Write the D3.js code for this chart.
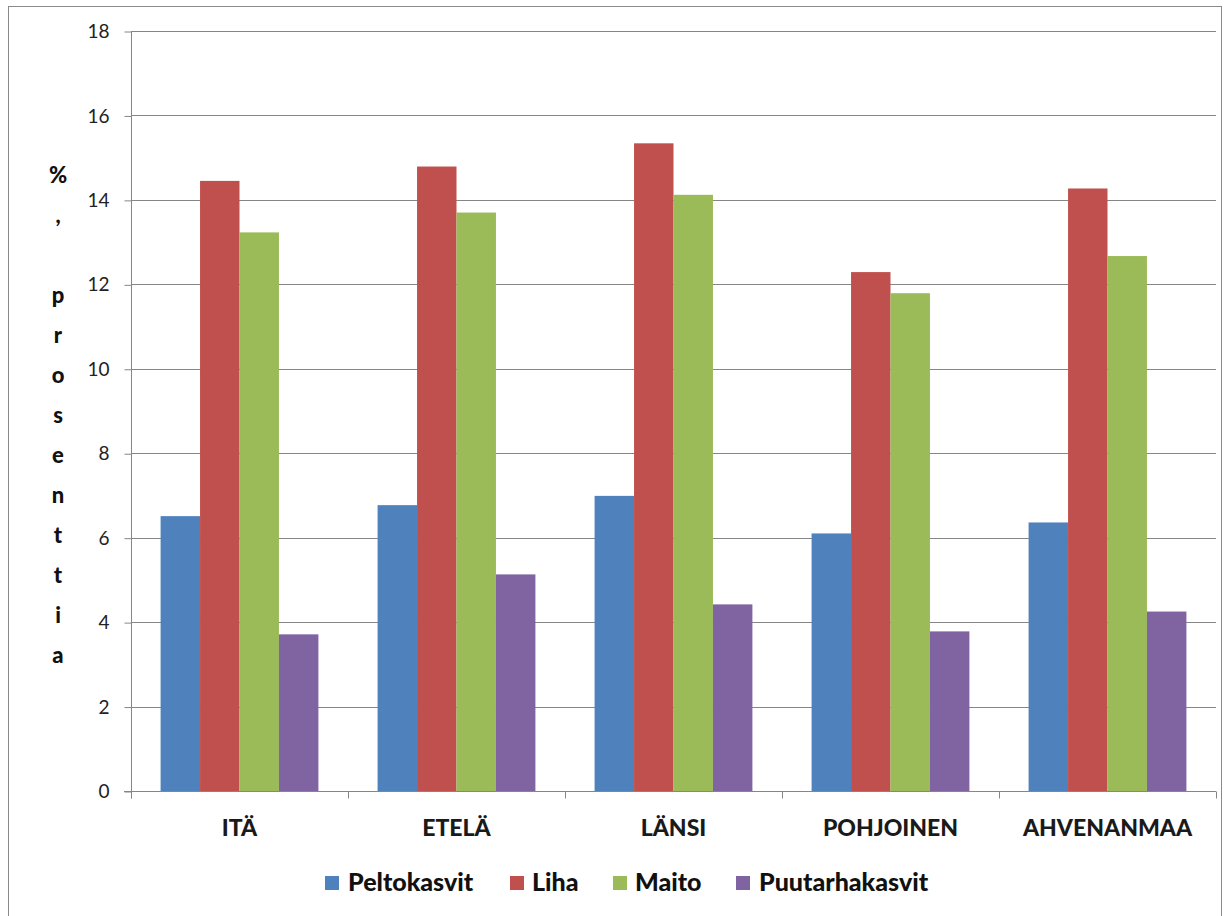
<!DOCTYPE html>
<html>
<head>
<meta charset="utf-8">
<script src="https://cdn.jsdelivr.net/npm/d3@7"></script>
<style>
  html, body { margin: 0; padding: 0; background: #fff; }
  svg { display: block; }
</style>
</head>
<body>
<svg id="chart" width="1230" height="916"></svg>
<script>
const categories = ["ITÄ", "ETELÄ", "LÄNSI", "POHJOINEN", "AHVENANMAA"];
const seriesNames = ["Peltokasvit", "Liha", "Maito", "Puutarhakasvit"];
const peltokasvit = [6.51, 6.77, 6.99, 6.10, 6.36];
const liha = [14.45, 14.79, 15.34, 12.29, 14.27];
const maito = [13.23, 13.70, 14.12, 11.79, 12.67];
const puutarhakasvit = [3.71, 5.13, 4.42, 3.78, 4.25];
const yTicks = [0, 2, 4, 6, 8, 10, 12, 14, 16, 18];
const yTitle = "%, prosenttia";
const colors = ["#4F81BD", "#C0504D", "#9BBB59", "#8064A2"];

const seriesValues = [peltokasvit, liha, maito, puutarhakasvit];

(function () {
const svg = d3.select("#chart");
const pLeft = 131, pRight = 1216, pTop = 31, pBottom = 791;
const gridColor = "#868686";

// outer border
svg.append("rect")
  .attr("x", 8.5).attr("y", 6.5)
  .attr("width", 1213).attr("height", 915)
  .attr("fill", "#fff").attr("stroke", "#8a8a8a").attr("stroke-width", 1);

const y = d3.scaleLinear().domain([0, 18]).range([pBottom, pTop]);
const x0 = d3.scaleBand().domain(categories).range([pLeft, pRight]).paddingInner(0).paddingOuter(0);
const bw = x0.bandwidth();
// Excel gap width 150% => 4 bars + 1.5 bar of gap
const barW = bw / 5.5;
const x1 = d3.scaleBand().domain(seriesNames)
  .range([barW * 0.75, barW * 0.75 + barW * 4]).padding(0);

// gridlines
svg.append("g").selectAll("line")
  .data(yTicks.filter(d => d > 0))
  .join("line")
  .attr("x1", pLeft).attr("x2", pRight)
  .attr("y1", d => Math.round(y(d)) + 0.5).attr("y2", d => Math.round(y(d)) + 0.5)
  .attr("stroke", gridColor).attr("stroke-width", 1);

// bars
const data = [];
categories.forEach((c, i) => {
  seriesNames.forEach((s, j) => {
    data.push({ cat: c, ser: s, value: seriesValues[j][i], color: colors[j] });
  });
});
svg.append("g").selectAll("rect")
  .data(data)
  .join("rect")
  .attr("x", d => x0(d.cat) + x1(d.ser))
  .attr("width", x1.bandwidth())
  .attr("y", d => y(d.value))
  .attr("height", d => y(0) - y(d.value))
  .attr("fill", d => d.color);

// y axis
const yAxis = d3.axisLeft(y).tickValues(yTicks).tickSize(7).tickPadding(15).tickFormat(d3.format("d"));
const gy = svg.append("g").attr("transform", `translate(${pLeft + 0.5},0.5)`).call(yAxis);
gy.select(".domain").attr("stroke", gridColor).attr("d", `M0,${pTop}V${pBottom + 7}`);
gy.selectAll(".tick line").attr("stroke", gridColor);
gy.selectAll(".tick text")
  .attr("fill", "#222")
  .style("font-family", "Lato, 'Open Sans', sans-serif")
  .style("font-size", "19px");

// x axis
const gx = svg.append("g").attr("transform", `translate(0,${pBottom + 0.5})`);
gx.append("line").attr("x1", pLeft - 7).attr("x2", pRight).attr("y1", 0).attr("y2", 0).attr("stroke", gridColor);
const boundaries = categories.map(c => x0(c)).concat([pRight]);
gx.selectAll("line.tk").data(boundaries).join("line").attr("class", "tk")
  .attr("x1", d => Math.round(d) + 0.5).attr("x2", d => Math.round(d) + 0.5)
  .attr("y1", 0).attr("y2", 7).attr("stroke", gridColor);
gx.selectAll("text").data(categories).join("text")
  .attr("x", d => x0(d) + bw / 2)
  .attr("y", 44)
  .attr("text-anchor", "middle")
  .attr("fill", "#1a1a1a")
  .style("font-family", "Lato, 'Open Sans', sans-serif")
  .style("font-weight", "900")
  .style("font-size", "23px")
  .text(d => d);

// y title: stacked characters
const chars = Array.from(yTitle);
svg.append("text")
  .attr("text-anchor", "middle")
  .attr("fill", "#111")
  .style("font-family", "Lato, 'Open Sans', sans-serif")
  .style("font-weight", "900")
  .style("font-size", "22px")
  .selectAll("tspan").data(chars).join("tspan")
  .attr("x", 58)
  .attr("y", (d, i) => 183 + i * 40)
  .text(d => d === " " ? "\u00a0" : d);

// legend
const legendPos = [
  { sx: 325, tx: 348 },
  { sx: 510, tx: 532 },
  { sx: 613, tx: 635 },
  { sx: 736, tx: 759 }
];
const lg = svg.append("g");
seriesNames.forEach((s, j) => {
  lg.append("rect").attr("x", legendPos[j].sx).attr("y", 876).attr("width", 14).attr("height", 14).attr("fill", colors[j]);
  lg.append("text").attr("x", legendPos[j].tx).attr("y", 891)
    .attr("fill", "#111")
    .style("font-family", "Lato, 'Open Sans', sans-serif")
    .style("font-weight", "900")
    .style("font-size", "25px")
    .text(s);
});
})();
</script>
</body>
</html>
